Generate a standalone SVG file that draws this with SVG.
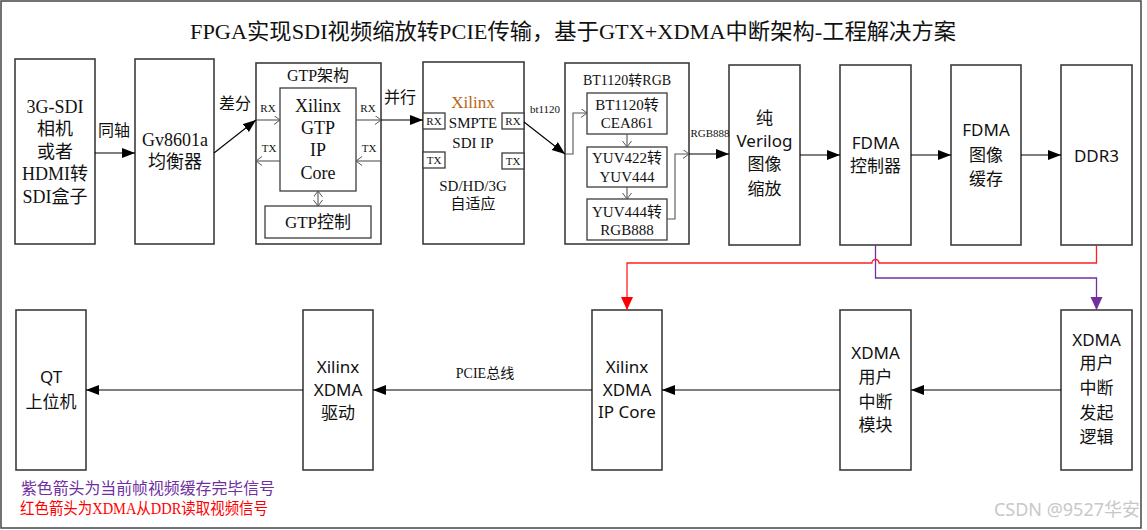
<svg xmlns="http://www.w3.org/2000/svg" width="1147" height="530" viewBox="0 0 1147 530">
<style>
.bx{fill:#fff;stroke:#3c3c3c;stroke-width:1.6}
.sm{fill:#fff;stroke:#3c3c3c;stroke-width:1.3}
.ln{fill:none;stroke:#000;stroke-width:1.1}
.gl{fill:none;stroke:#555;stroke-width:1.1}
.se{font-family:"Liberation Serif","Noto Sans CJK SC",serif;fill:#111;text-anchor:middle}
.sa{font-family:"Noto Sans","Noto Sans CJK SC",sans-serif;fill:#111;text-anchor:middle}
</style>
<defs>
<marker id="ah" markerUnits="userSpaceOnUse" markerWidth="14" markerHeight="12" refX="13" refY="5" orient="auto"><path d="M0,0 L13,5 L0,10 z" fill="#000"/></marker>
<marker id="ahr" markerUnits="userSpaceOnUse" markerWidth="14" markerHeight="14" refX="13" refY="6" orient="auto"><path d="M0,0 L13,6 L0,12 z" fill="#ff0000"/></marker>
<marker id="ahp" markerUnits="userSpaceOnUse" markerWidth="14" markerHeight="14" refX="13" refY="6" orient="auto"><path d="M0,0 L13,6 L0,12 z" fill="#7030a0"/></marker>
<marker id="ch" markerUnits="userSpaceOnUse" markerWidth="8" markerHeight="10" refX="6" refY="4.5" orient="auto-start-reverse"><path d="M0,0 L6,4.5 L0,9" fill="none" stroke="#555" stroke-width="1"/></marker>
</defs>
<rect x="0" y="0" width="1147" height="530" fill="#fff"/>
<rect x="1" y="1" width="1140" height="527" fill="none" stroke="#444" stroke-width="1.5"/>
<text x="573" y="39" class="se" font-size="22" textLength="766" lengthAdjust="spacingAndGlyphs">FPGA实现SDI视频缩放转PCIE传输，基于GTX+XDMA中断架构-工程解决方案</text>

<g id="src"><rect class="bx" x="15" y="59" width="80" height="185"/>
<text class="se" font-size="18"><tspan x="55" y="113">3G-SDI</tspan><tspan x="55" y="135">相机</tspan><tspan x="55" y="158">或者</tspan><tspan x="55" y="180">HDMI转</tspan><tspan x="55" y="203">SDI盒子</tspan></text></g>

<g id="eq"><rect class="bx" x="135" y="59" width="79" height="185"/>
<text class="se" font-size="18"><tspan x="175" y="146">Gv8601a</tspan><tspan x="175" y="168">均衡器</tspan></text></g>

<g id="gtp"><rect class="bx" x="256" y="63" width="125" height="181"/>
<text class="se" font-size="16" x="318" y="81">GTP架构</text>
<rect class="sm" x="280" y="88" width="76" height="103"/>
<text class="se" font-size="18"><tspan x="318" y="112">Xilinx</tspan><tspan x="318" y="134">GTP</tspan><tspan x="318" y="156">IP</tspan><tspan x="318" y="179">Core</tspan></text>
<rect class="sm" x="265" y="206" width="106" height="32"/>
<text class="se" font-size="17" x="318" y="228">GTP控制</text>
<text class="se" font-size="11"><tspan x="268" y="112">RX</tspan><tspan x="269" y="152">TX</tspan><tspan x="368" y="112">RX</tspan><tspan x="369" y="152">TX</tspan></text></g>

<g id="smpte"><rect class="bx" x="423" y="62" width="101" height="182"/>
<rect class="sm" x="423" y="113" width="22" height="16"/><rect class="sm" x="423" y="152" width="22" height="16"/>
<rect class="sm" x="502" y="113" width="22" height="16"/><rect class="sm" x="502" y="153" width="22" height="16"/>
<text class="se" font-size="11"><tspan x="434" y="125">RX</tspan><tspan x="434" y="164">TX</tspan><tspan x="513" y="125">RX</tspan><tspan x="513" y="165">TX</tspan></text>
<text class="se" font-size="17" x="473" y="108" fill="#b8650f" style="fill:#b8650f">Xilinx</text>
<text class="se" font-size="15"><tspan x="473" y="128">SMPTE</tspan><tspan x="473" y="148">SDI IP</tspan><tspan x="473" y="191">SD/HD/3G</tspan><tspan x="473" y="209">自适应</tspan></text></g>

<g id="bt"><rect class="bx" x="565" y="63" width="124" height="181"/>
<text class="se" font-size="14" x="627" y="85">BT1120转RGB</text>
<rect class="sm" x="587" y="93" width="80" height="41"/><rect class="sm" x="587" y="147" width="80" height="40"/><rect class="sm" x="587" y="199" width="80" height="41"/>
<text class="se" font-size="15"><tspan x="627" y="110">BT1120转</tspan><tspan x="627" y="128">CEA861</tspan><tspan x="627" y="163">YUV422转</tspan><tspan x="627" y="182">YUV444</tspan><tspan x="627" y="217">YUV444转</tspan><tspan x="627" y="235">RGB888</tspan></text></g>

<g id="scale"><rect class="bx" x="729" y="65" width="71" height="180"/>
<text class="sa" font-size="17"><tspan x="764.5" y="124">纯</tspan><tspan x="764.5" y="147">Verilog</tspan><tspan x="764.5" y="170">图像</tspan><tspan x="764.5" y="195">缩放</tspan></text></g>
<g id="fdmac"><rect class="bx" x="840" y="65" width="71" height="180"/>
<text class="sa" font-size="17"><tspan x="875.5" y="149">FDMA</tspan><tspan x="875.5" y="172">控制器</tspan></text></g>
<g id="fdmab"><rect class="bx" x="951" y="65" width="70" height="180"/>
<text class="sa" font-size="17"><tspan x="986" y="136">FDMA</tspan><tspan x="986" y="161">图像</tspan><tspan x="986" y="185">缓存</tspan></text></g>
<g id="ddr"><rect class="bx" x="1061" y="65" width="71" height="180"/>
<text class="sa" font-size="17" x="1096.5" y="162">DDR3</text></g>

<g id="qt"><rect class="bx" x="16" y="310" width="70" height="160"/>
<text class="sa" font-size="17"><tspan x="51" y="383">QT</tspan><tspan x="51" y="408">上位机</tspan></text></g>
<g id="drv"><rect class="bx" x="303" y="310" width="70" height="160"/>
<text class="sa" font-size="17"><tspan x="338" y="373">Xilinx</tspan><tspan x="338" y="396">XDMA</tspan><tspan x="338" y="419">驱动</tspan></text></g>
<g id="ipc"><rect class="bx" x="592" y="310" width="70" height="160"/>
<text class="sa" font-size="17"><tspan x="627" y="373">Xilinx</tspan><tspan x="627" y="396">XDMA</tspan><tspan x="627" y="418">IP Core</tspan></text></g>
<g id="mod"><rect class="bx" x="840" y="310" width="71" height="160"/>
<text class="sa" font-size="17"><tspan x="875.5" y="359">XDMA</tspan><tspan x="875.5" y="383">用户</tspan><tspan x="875.5" y="408">中断</tspan><tspan x="875.5" y="431">模块</tspan></text></g>
<g id="logic"><rect class="bx" x="1061" y="310" width="71" height="160"/>
<text class="sa" font-size="17"><tspan x="1096.5" y="346">XDMA</tspan><tspan x="1096.5" y="369">用户</tspan><tspan x="1096.5" y="394">中断</tspan><tspan x="1096.5" y="419">发起</tspan><tspan x="1096.5" y="443">逻辑</tspan></text></g>

<g id="connectors">
<line class="ln" x1="95" y1="153" x2="135" y2="153" marker-end="url(#ah)"/>
<text class="sa" font-size="16" x="114" y="136">同轴</text>
<line class="ln" x1="214" y1="153" x2="256" y2="120" marker-end="url(#ah)"/>
<text class="sa" font-size="16" x="235" y="109">差分</text>
<line class="gl" x1="256" y1="120" x2="280" y2="120" marker-end="url(#ch)"/>
<line class="gl" x1="280" y1="161" x2="256" y2="161" marker-end="url(#ch)"/>
<line class="gl" x1="356" y1="120" x2="381" y2="120" marker-end="url(#ch)"/>
<line class="gl" x1="381" y1="161" x2="356" y2="161" marker-end="url(#ch)"/>
<line class="gl" x1="318" y1="191" x2="318" y2="206" marker-start="url(#ch)" marker-end="url(#ch)"/>
<line class="ln" x1="381" y1="120" x2="423" y2="120" marker-end="url(#ah)"/>
<text class="sa" font-size="16" x="400" y="103">并行</text>
<line class="ln" x1="524" y1="122" x2="565" y2="154" marker-end="url(#ah)"/>
<text class="se" font-size="11" x="545" y="113">bt1120</text>
<polyline class="gl" points="565,154 573,154 573,113 587,113" marker-end="url(#ch)"/>
<line class="gl" x1="627" y1="134" x2="627" y2="147" marker-end="url(#ch)"/>
<line class="gl" x1="627" y1="187" x2="627" y2="199" marker-end="url(#ch)"/>
<polyline class="gl" points="667,219 675,219 675,154 689,154" marker-end="url(#ch)"/>
<line class="ln" x1="689" y1="154" x2="729" y2="154" marker-end="url(#ah)"/>
<text class="se" font-size="11" x="710" y="137">RGB888</text>
<line class="ln" x1="800" y1="155" x2="840" y2="155" marker-end="url(#ah)"/>
<line class="ln" x1="911" y1="155" x2="951" y2="155" marker-end="url(#ah)"/>
<line class="ln" x1="1021" y1="155" x2="1061" y2="155" marker-end="url(#ah)"/>
<path d="M875.5,245 V278 H1096.5 V310" fill="none" stroke="#7030a0" stroke-width="1.3" marker-end="url(#ahp)"/>
<path d="M1096.5,245 V263 H879 A3.5,3.5 0 0 0 872,263 H627 V310" fill="none" stroke="#ff2020" stroke-width="1.3" marker-end="url(#ahr)"/>
<line class="ln" x1="1061" y1="390" x2="911" y2="390" marker-end="url(#ah)"/>
<line class="ln" x1="840" y1="390" x2="662" y2="390" marker-end="url(#ah)"/>
<line class="ln" x1="592" y1="390" x2="373" y2="390" marker-end="url(#ah)"/>
<text class="se" font-size="14" x="485" y="378">PCIE总线</text>
<line class="ln" x1="303" y1="390" x2="86" y2="390" marker-end="url(#ah)"/>
</g>
<text font-family="Liberation Serif,Noto Sans CJK SC,serif" font-size="16" x="21" y="494" fill="#7030a0" textLength="254" lengthAdjust="spacingAndGlyphs">紫色箭头为当前帧视频缓存完毕信号</text>
<text font-family="Liberation Serif,Noto Sans CJK SC,serif" font-size="16" x="20" y="514" fill="#ff0000" textLength="248" lengthAdjust="spacingAndGlyphs">红色箭头为XDMA从DDR读取视频信号</text>
<text font-family="Noto Sans,Noto Sans CJK SC,sans-serif" font-size="18" x="1140" y="516" fill="#c8c8c8" text-anchor="end">CSDN @9527华安</text>
</svg>
